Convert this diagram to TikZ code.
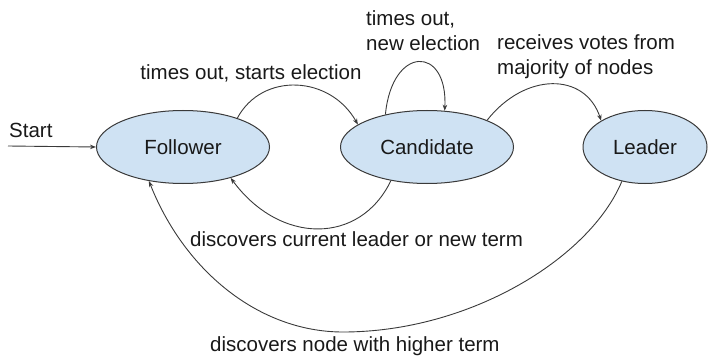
\documentclass[tikz,border=0pt]{standalone}
\usepackage{fontspec}
\setmainfont{Liberation Sans}
\usetikzlibrary{shapes.geometric,arrows.meta}
\definecolor{stfill}{HTML}{CFE2F3}
\definecolor{stline}{HTML}{3A3A3A}
\begin{document}
\begin{tikzpicture}[x=1pt,y=-1pt,
  every node/.style={font=\fontsize{20.5}{25}\selectfont, text=black!90},
  state/.style={ellipse, draw=stline, line width=1pt, fill=stfill, inner sep=0pt, minimum height=73pt},
  lbl/.style={anchor=west, align=left, inner sep=0pt},
  conn/.style={draw=stline, line width=0.9pt, -{Stealth[length=6pt,width=4.5pt]}}]
\useasboundingbox (0,0) rectangle (708,358);
\node[state, minimum width=173pt] (F) at (183,147) {Follower};
\node[state, minimum width=173pt] (C) at (427,147) {Candidate};
\node[state, minimum width=124pt] (L) at (645,147) {Leader};
\coordinate (S) at (8,146);
\node[lbl] (tStart) at (9,130) {Start};
\node[inner sep=0pt] (tFC) at (251,73) {times out, starts election};
\node[lbl] (tCC) at (366,31) {times out,\\new election};
\node[lbl] (tCL) at (497,57) {receives votes from\\majority of nodes};
\node[lbl] (tCF) at (190,239) {discovers current leader or new term};
\node[lbl] (tLF) at (210,346) {discovers node with higher term};
\draw[conn] (S) -- (F.west);
\draw[conn] (F.28) .. controls (262,72) and (330,75) .. (C.162);
\draw[conn] (C.142) .. controls (392,45) and (448,45) .. (C.64);
\draw[conn] (C.24) .. controls (525,72) and (585,72) .. (L.149);
\draw[conn] (C.-137) .. controls (360,245) and (280,245) .. (F.-33);
\draw[conn] (L.-124) .. controls (590,258) and (470,332) .. (343,332)
  .. controls (260,332) and (185,272) .. (F.-135);
\end{tikzpicture}
\end{document}
